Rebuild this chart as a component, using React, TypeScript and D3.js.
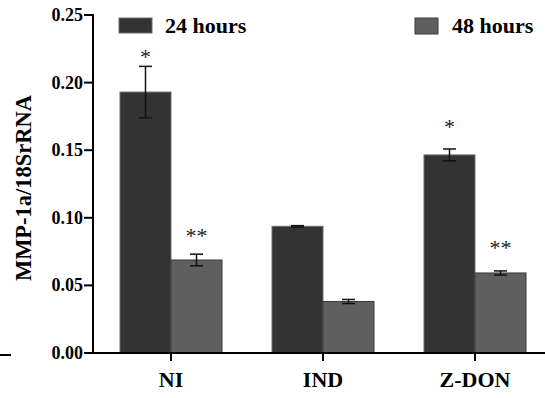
import React from "react";
import * as d3 from "d3";

const categories = ["NI", "IND", "Z-DON"];
const seriesNames = ["24 hours", "48 hours"];
const values24 = [0.193, 0.0937, 0.1465];
const errors24 = [0.019, 0.0005, 0.0044];
const values48 = [0.0688, 0.0381, 0.0592];
const errors48 = [0.0043, 0.0015, 0.0015];
const sig24 = ["*", "", "*"];
const sig24Pos = [0.2212, 0, 0.1694];
const sig48 = ["**", "", "**"];
const sig48Pos = [0.0888, 0, 0.0799];
const yTicks = [0, 0.05, 0.1, 0.15, 0.2, 0.25];
const yLabel = "MMP-1a/18SrRNA";

const W = 545;
const H = 398;
const FONT = "'Liberation Serif', 'Times New Roman', serif";
const fills = ["#333333", "#5f5f5f"];
const strokes = ["#6a6a6a", "#3a3a3a"];

export default function App() {
  const y = d3.scaleLinear().domain([0, 0.25]).range([353, 15]);
  const x0 = d3.scaleBand().domain(categories).range([95, 551]).padding(0);
  const x1 = d3.scaleBand().domain(seriesNames).range([-51, 51]).padding(0);
  const axisX = 93;
  const series = [
    { name: seriesNames[0], vals: values24, errs: errors24, sig: sig24, sigPos: sig24Pos },
    { name: seriesNames[1], vals: values48, errs: errors48, sig: sig48, sigPos: sig48Pos },
  ];
  const cx = (c: string) => (x0(c) as number) + x0.bandwidth() / 2;

  return (
    <svg
      width={W}
      height={H}
      style={{ position: "absolute", left: 0, top: 0, background: "#fff" }}
    >
      {/* bars */}
      {series.map((s, si) =>
        categories.map((c, i) => {
          const bx = cx(c) + (x1(s.name) as number);
          const bw = x1.bandwidth();
          const top = y(s.vals[i]);
          return (
            <rect
              key={`b-${si}-${i}`}
              x={bx}
              y={top}
              width={bw}
              height={y(0) - top}
              fill={fills[si]}
              stroke={strokes[si]}
              strokeWidth={1}
            />
          );
        })
      )}
      {/* error bars */}
      {series.map((s, si) =>
        categories.map((c, i) => {
          const mx = cx(c) + (x1(s.name) as number) + x1.bandwidth() / 2;
          const yt = y(s.vals[i] + s.errs[i]);
          const yb = y(s.vals[i] - s.errs[i]);
          return (
            <g key={`e-${si}-${i}`} stroke="#111" strokeWidth={1.5}>
              <line x1={mx} x2={mx} y1={yt} y2={yb} />
              <line x1={mx - 6.5} x2={mx + 6.5} y1={yt} y2={yt} />
              <line x1={mx - 6.5} x2={mx + 6.5} y1={yb} y2={yb} />
            </g>
          );
        })
      )}
      {/* significance marks */}
      {series.map((s, si) =>
        categories.map((c, i) =>
          s.sig[i] ? (
            <text
              key={`s-${si}-${i}`}
              x={cx(c) + (x1(s.name) as number) + x1.bandwidth() / 2}
              y={y(s.sigPos[i]) + 10.5}
              textAnchor="middle"
              fontFamily={FONT}
              fontSize={22}
              fill="#222"
            >
              {s.sig[i]}
            </text>
          ) : null
        )
      )}
      {/* y axis */}
      <line x1={axisX} x2={axisX} y1={y(0.25) - 1} y2={y(0) + 1} stroke="#000" strokeWidth={2} />
      {yTicks.map((t) => (
        <g key={`yt-${t}`}>
          <line x1={axisX - 9} x2={axisX} y1={y(t)} y2={y(t)} stroke="#000" strokeWidth={2} />
          <text
            x={axisX - 10}
            y={y(t) + 6}
            textAnchor="end"
            fontFamily={FONT}
            fontWeight="bold"
            fontSize={18}
            fill="#000"
          >
            {t.toFixed(2)}
          </text>
        </g>
      ))}
      {/* x axis */}
      <line x1={axisX - 1} x2={W} y1={y(0)} y2={y(0)} stroke="#000" strokeWidth={2} />
      {categories.map((c) => (
        <g key={`xt-${c}`}>
          <line x1={cx(c)} x2={cx(c)} y1={y(0)} y2={y(0) + 8} stroke="#000" strokeWidth={2} />
          <text
            x={cx(c)}
            y={387}
            textAnchor="middle"
            fontFamily={FONT}
            fontWeight="bold"
            fontSize={22}
            fill="#000"
          >
            {c}
          </text>
        </g>
      ))}
      {/* y label */}
      <text
        transform={`translate(31, ${(y(0) + y(0.25)) / 2 + 4}) rotate(-90)`}
        textAnchor="middle"
        fontFamily={FONT}
        fontWeight="bold"
        fontSize={22.5}
        fill="#000"
      >
        {yLabel}
      </text>
      {/* legend */}
      <rect x={119} y={18} width={33} height={15} fill={fills[0]} stroke={strokes[0]} strokeWidth={1} />
      <text x={165} y={33} fontFamily={FONT} fontWeight="bold" fontSize={22} fill="#000">
        {seriesNames[0]}
      </text>
      <rect x={415} y={18} width={23} height={16} fill={fills[1]} stroke={strokes[1]} strokeWidth={1} />
      <text x={452} y={33} fontFamily={FONT} fontWeight="bold" fontSize={22} fill="#000">
        {seriesNames[1]}
      </text>
      {/* stray edge mark from the source figure */}
      <line x1={0} x2={11} y1={355} y2={355} stroke="#000" strokeWidth={2} />
    </svg>
  );
}
